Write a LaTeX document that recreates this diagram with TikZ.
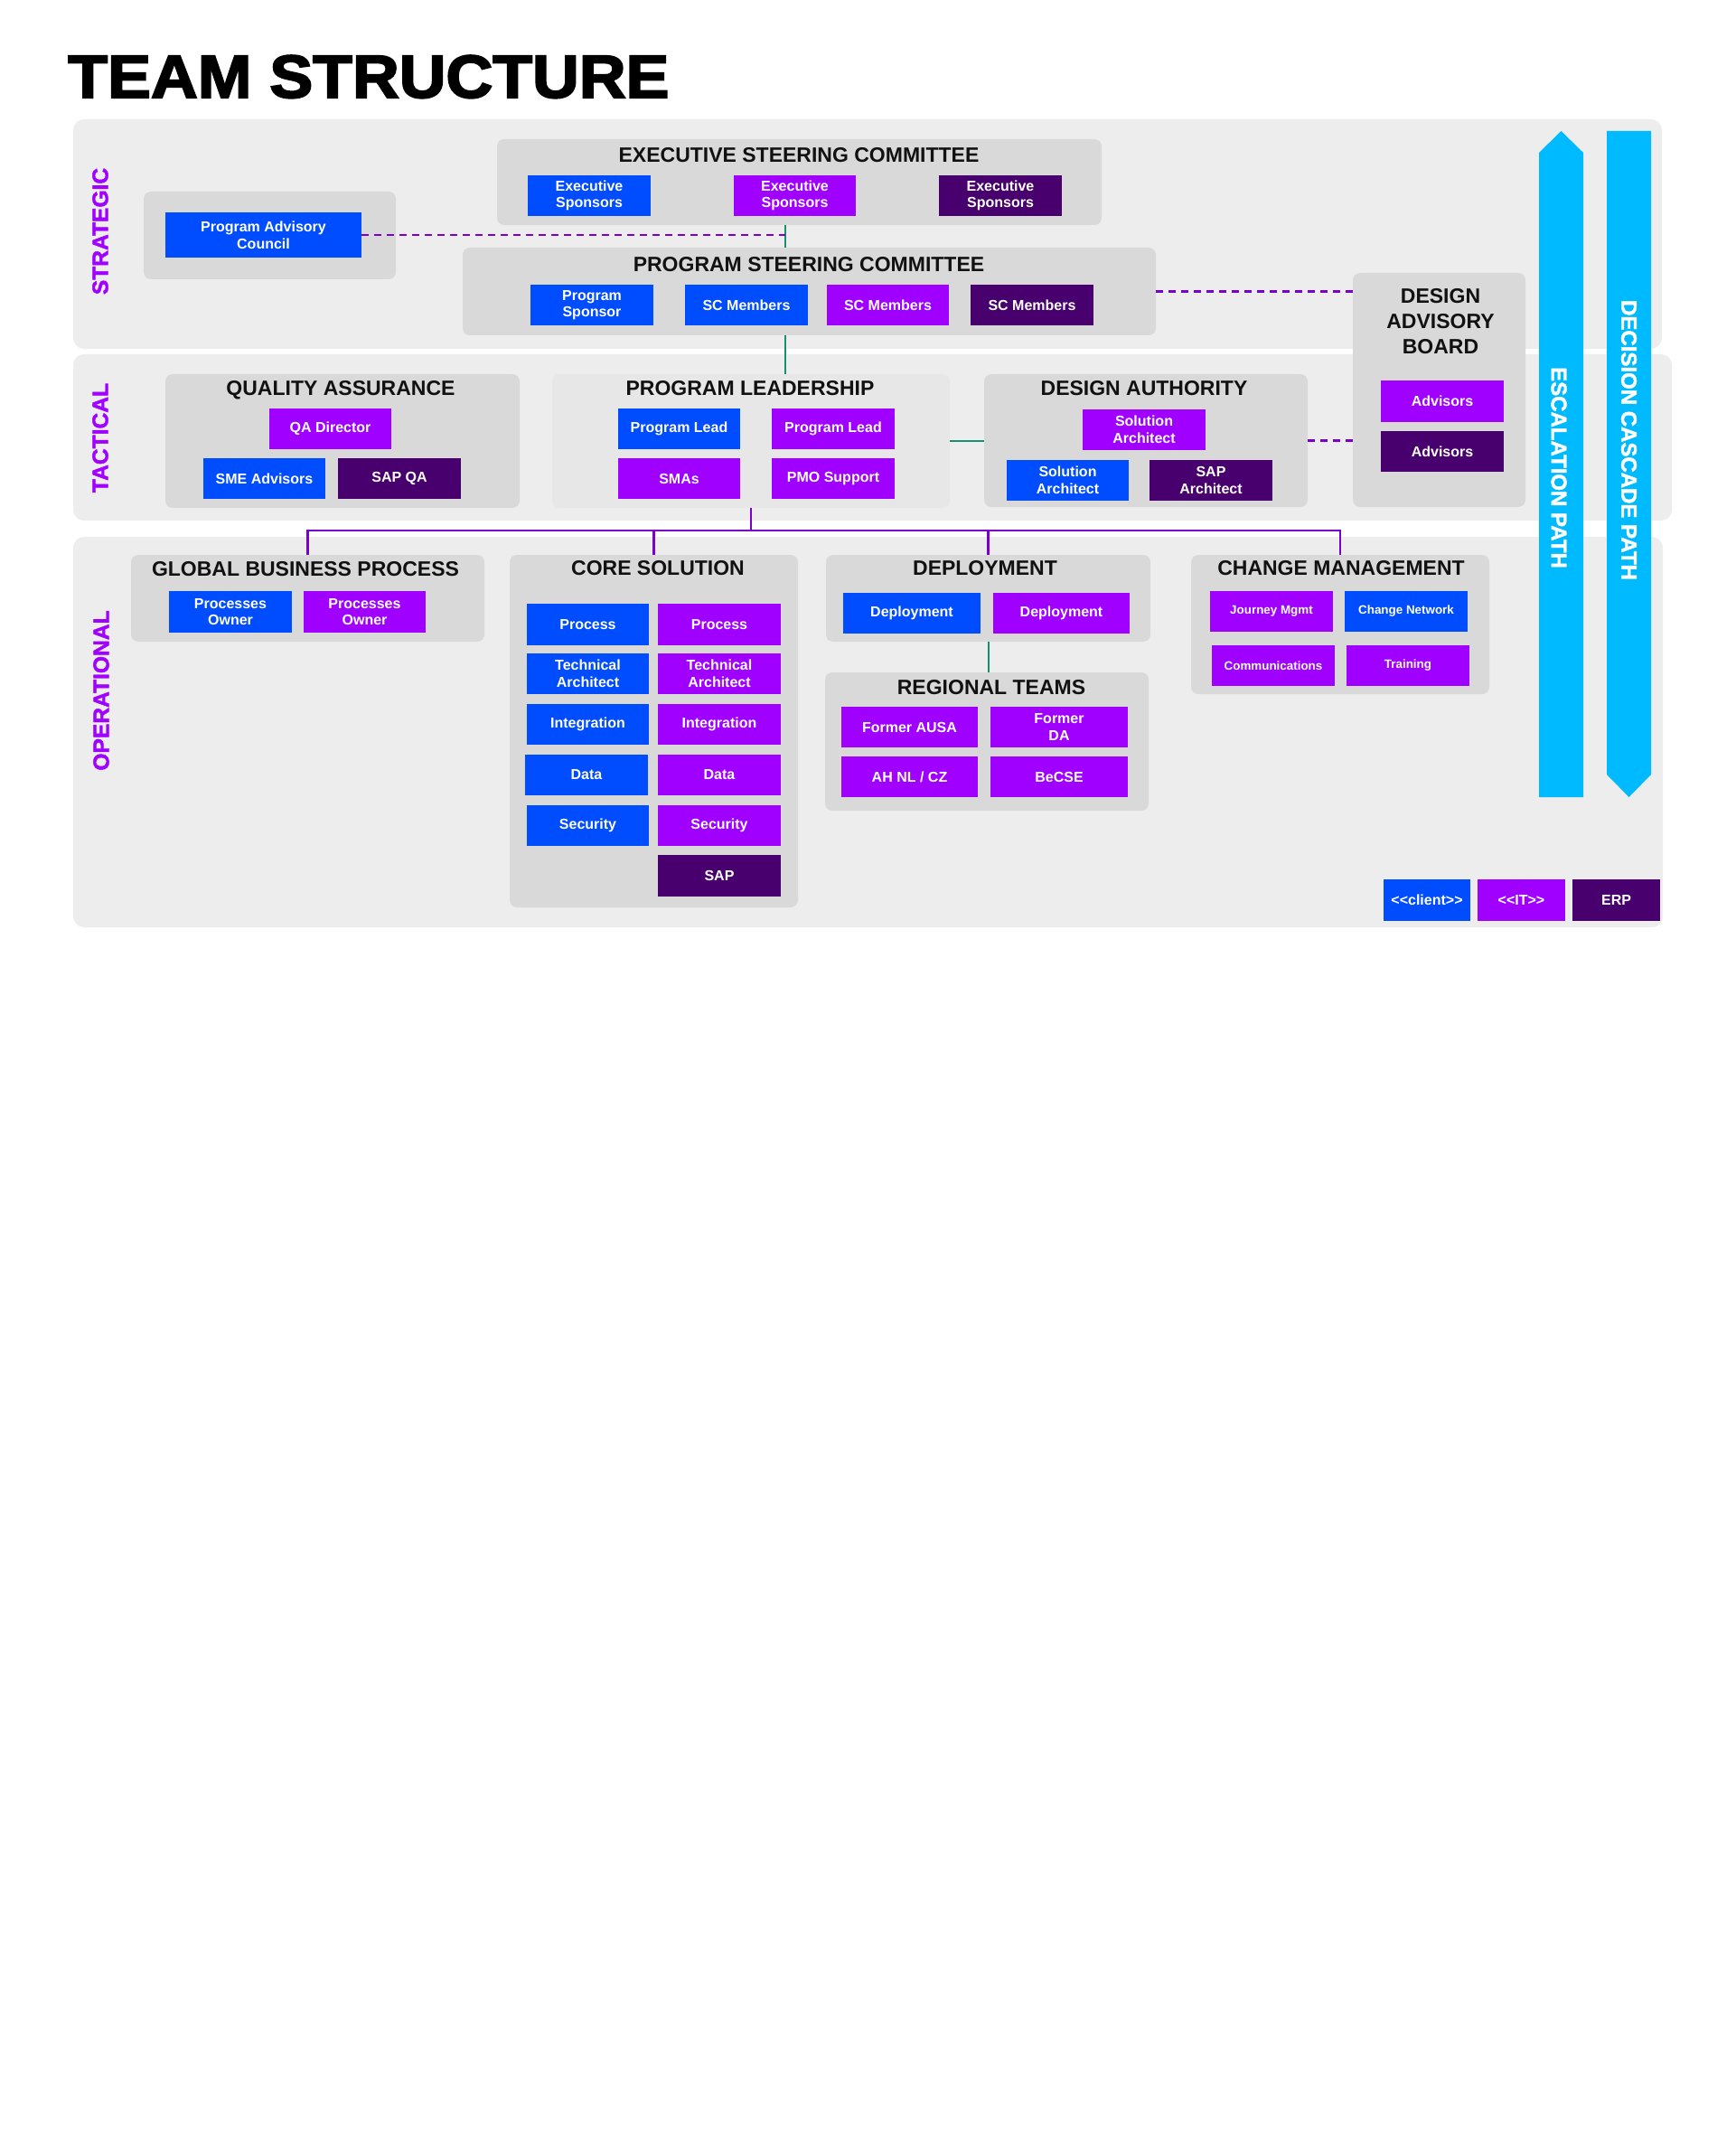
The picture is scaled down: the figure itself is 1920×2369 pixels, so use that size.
\documentclass[tikz,border=0pt]{standalone}
\usepackage{fontspec}
\setmainfont{Liberation Sans}
\newfontfamily\titlefont[FakeBold=3,FakeStretch=1.07]{Liberation Sans Bold}
\newfontfamily\tierfont[FakeBold=1.8]{Liberation Sans Bold}
\usetikzlibrary{calc}

\definecolor{cblue}{HTML}{004CFF}
\definecolor{cpurple}{HTML}{A000FF}
\definecolor{cdark}{HTML}{47006E}
\definecolor{ccyan}{HTML}{00BAFF}
\definecolor{cpanel}{HTML}{EDEDED}
\definecolor{cgroup}{HTML}{D9D9D9}
\definecolor{cgrouplight}{HTML}{E7E7E7}
\definecolor{cgreen}{HTML}{168F6F}
\definecolor{cline}{HTML}{7A00CC}
\definecolor{chead}{HTML}{111111}

% smaller lettering for the change management boxes
\newcommand\smalltext{\fontsize{6.7}{8}\selectfont}

% coloured role box given by its corners (pixels)
\newcommand\unitbox[7]{%
  \node[ubox,fill=#6,minimum width={(#4-#2)*0.5pt},minimum height={(#5-#3)*0.5pt}]
    (#1) at ({(#2+#4)/2},{(#3+#5)/2}) {#7};}
% grey group box given by its corners (pixels)
\newcommand\grpbox[6]{%
  \node[gbox,fill=#6,minimum width={(#4-#2)*0.5pt},minimum height={(#5-#3)*0.5pt}]
    (#1) at ({(#2+#4)/2},{(#3+#5)/2}) {};}
% tier panel
\newcommand\tierpanel[5]{%
  \node[pbox,minimum width={(#4-#2)*0.5pt},minimum height={(#5-#3)*0.5pt}]
    (#1) at ({(#2+#4)/2},{(#3+#5)/2}) {};}

\begin{document}
\begin{tikzpicture}[x=0.5pt,y=-0.5pt,
  ubox/.style={inner sep=0pt,outer sep=0pt,text=white,align=center,
    font=\bfseries\fontsize{8}{9.3}\selectfont},
  gbox/.style={inner sep=0pt,outer sep=0pt,rounded corners=4pt},
  pbox/.style={inner sep=0pt,outer sep=0pt,rounded corners=6pt,fill=cpanel},
  headbase/.style={inner sep=0pt,text=chead,align=center,
    font=\bfseries\fontsize{11.5}{14}\selectfont},
  head/.style={headbase,text height=8.25pt,text depth=0pt},
  tier/.style={inner sep=0pt,text=cpurple,rotate=90,
    font=\tierfont\fontsize{12.3}{14}\selectfont},
  pathtext/.style={inner sep=0pt,text=white,rotate=-90,
    font=\tierfont\fontsize{12}{14}\selectfont},
  gline/.style={draw=cgreen,line width=1pt},
  tline/.style={draw=cline,line width=1.4pt},
  dline/.style={draw=cline,line width=1.2pt,dash pattern=on 4pt off 3pt},
]
\useasboundingbox[fill=white] (0,0) rectangle (1920,2369);

% title
\node[anchor=base west,inner sep=0pt,font=\titlefont\fontsize{33.5}{36}\selectfont]
  (title) at (75,108) {TEAM STRUCTURE};

% tier panels
\tierpanel{strat}{81}{132}{1839}{386}
\tierpanel{tact}{81}{392}{1850}{576}
\tierpanel{oper}{81}{594}{1840}{1026}

\node[tier] (strat-l) at (111,256) {STRATEGIC};
\node[tier] (tact-l) at (111,484.5) {TACTICAL};
\node[tier] (oper-l) at (112,764) {OPERATIONAL};

% group boxes
\grpbox{pac}{159}{212}{438}{309}{cgroup}
\grpbox{esc}{550}{154}{1219}{249}{cgroup}
\grpbox{psc}{512}{274}{1279}{371}{cgroup}
\grpbox{dab}{1497}{302}{1688}{561}{cgroup}
\grpbox{qa}{183}{414}{575}{562}{cgroup}
\grpbox{pl}{611}{414}{1051}{562}{cgrouplight}
\grpbox{da}{1089}{414}{1447}{561}{cgroup}
\grpbox{gbp}{145}{614}{536}{710}{cgroup}
\grpbox{cs}{564}{614}{883}{1004}{cgroup}
\grpbox{dep}{914}{614}{1273}{710}{cgroup}
\grpbox{rt}{913}{744}{1271}{897}{cgroup}
\grpbox{cm}{1318}{614}{1648}{768}{cgroup}

% group headings
\node[head] (esc-t) at (884,171) {EXECUTIVE STEERING COMMITTEE};
\node[head] (psc-t) at (895,292) {PROGRAM STEERING COMMITTEE};
\node[headbase] (dab-t) at (1594,356) {DESIGN\\ADVISORY\\BOARD};
\node[head] (qa-t) at (377,429) {QUALITY ASSURANCE};
\node[head] (pl-t) at (830,429) {PROGRAM LEADERSHIP};
\node[head] (da-t) at (1266,429) {DESIGN AUTHORITY};
\node[head] (gbp-t) at (338,629) {GLOBAL BUSINESS PROCESS};
\node[head] (cs-t) at (728,628) {CORE SOLUTION};
\node[head] (dep-t) at (1090,628) {DEPLOYMENT};
\node[head] (rt-t) at (1097,760) {REGIONAL TEAMS};
\node[head] (cm-t) at (1484,628) {CHANGE MANAGEMENT};

% connectors
\coordinate (spine) at (869,0);
\coordinate (bus) at (0,587);
\draw[gline] (esc.south -| spine) -- (psc.north -| spine);
\draw[gline] (psc.south -| spine) -- (pl.north -| spine);
\draw[gline] (pl.east) -- (pl.east -| da.west);
\draw[gline] (dep.south) -- (dep.south |- rt.north);
\draw[tline] (pl.south) -- (pl.south |- bus);
\draw[tline] (gbp.north) -- (gbp.north |- bus) -- (cm.north |- bus) -- (cm.north);
\draw[tline] (cs.north) -- (cs.north |- bus);
\draw[tline] (dep.north) -- (dep.north |- bus);

% role boxes: strategic tier
\unitbox{pacin}{183}{235}{400}{285}{cblue}{Program Advisory\\Council}
\draw[dline] (pacin.east) -- (pacin.east -| spine);
\draw[dline] (psc.east) -- (psc.east -| dab.west);
\draw[dline] (da.east) -- (da.east -| dab.west);

\unitbox{es1}{584}{194}{720}{239}{cblue}{Executive\\Sponsors}
\unitbox{es2}{812}{194}{947}{239}{cpurple}{Executive\\Sponsors}
\unitbox{es3}{1039}{194}{1175}{239}{cdark}{Executive\\Sponsors}
\unitbox{ps1}{587}{315}{723}{360}{cblue}{Program\\Sponsor}
\unitbox{sc1}{758}{315}{894}{360}{cblue}{SC Members}
\unitbox{sc2}{915}{315}{1050}{360}{cpurple}{SC Members}
\unitbox{sc3}{1074}{315}{1210}{360}{cdark}{SC Members}
\unitbox{adv1}{1528}{421}{1664}{467}{cpurple}{Advisors}
\unitbox{adv2}{1528}{477}{1664}{522}{cdark}{Advisors}

% role boxes: tactical tier
\unitbox{qad}{298}{452}{433}{497}{cpurple}{QA Director}
\unitbox{sme}{225}{507}{360}{552}{cblue}{SME Advisors}
\unitbox{sapqa}{374}{507}{510}{552}{cdark}{SAP QA}
\unitbox{pl1}{684}{452}{819}{497}{cblue}{Program Lead}
\unitbox{pl2}{854}{452}{990}{497}{cpurple}{Program Lead}
\unitbox{smas}{684}{507}{819}{552}{cpurple}{SMAs}
\unitbox{pmo}{854}{507}{990}{552}{cpurple}{PMO Support}
\unitbox{sa1}{1198}{453}{1334}{498}{cpurple}{Solution\\Architect}
\unitbox{sa2}{1114}{509}{1249}{554}{cblue}{Solution\\Architect}
\unitbox{sapa}{1272}{509}{1408}{554}{cdark}{SAP\\Architect}

% role boxes: operational tier
\unitbox{po1}{187}{654}{323}{700}{cblue}{Processes\\Owner}
\unitbox{po2}{336}{654}{471}{700}{cpurple}{Processes\\Owner}

\unitbox{csl1}{583}{668}{718}{714}{cblue}{Process}
\unitbox{csr1}{728}{668}{864}{714}{cpurple}{Process}
\unitbox{csl2}{583}{723}{718}{768}{cblue}{Technical\\Architect}
\unitbox{csr2}{728}{723}{864}{768}{cpurple}{Technical\\Architect}
\unitbox{csl3}{583}{779}{718}{824}{cblue}{Integration}
\unitbox{csr3}{728}{779}{864}{824}{cpurple}{Integration}
\unitbox{csl4}{581}{835}{717}{880}{cblue}{Data}
\unitbox{csr4}{728}{835}{864}{880}{cpurple}{Data}
\unitbox{csl5}{583}{891}{718}{936}{cblue}{Security}
\unitbox{csr5}{728}{891}{864}{936}{cpurple}{Security}
\unitbox{csr6}{728}{946}{864}{992}{cdark}{SAP}

\unitbox{dep1}{933}{656}{1085}{701}{cblue}{Deployment}
\unitbox{dep2}{1099}{656}{1250}{701}{cpurple}{Deployment}
\unitbox{ausa}{931}{782}{1082}{827}{cpurple}{Former AUSA}
\unitbox{fda}{1096}{782}{1248}{827}{cpurple}{Former\\DA}
\unitbox{ahnl}{931}{837}{1082}{882}{cpurple}{AH NL / CZ}
\unitbox{becse}{1096}{837}{1248}{882}{cpurple}{BeCSE}

\unitbox{jm}{1339}{654}{1475}{699}{cpurple}{\smalltext Journey Mgmt}
\unitbox{cn}{1488}{654}{1624}{699}{cblue}{\smalltext Change Network}
\unitbox{com}{1341}{714}{1477}{759}{cpurple}{\smalltext Communications}
\unitbox{trn}{1490}{714}{1626}{759}{cpurple}{\smalltext Training}

% legend
\unitbox{lg1}{1531}{973}{1627}{1019}{cblue}{<\kern0pt<client>\kern0pt>}
\unitbox{lg2}{1635}{973}{1732}{1019}{cpurple}{<\kern0pt<IT>\kern0pt>}
\unitbox{lg3}{1740}{973}{1837}{1019}{cdark}{ERP}

% escalation and decision paths
\fill[ccyan] (1703,882) -- (1703,169) -- (1727.5,145) -- (1752,169) -- (1752,882) -- cycle;
\fill[ccyan] (1778,145) -- (1827,145) -- (1827,857) -- (1802.5,882) -- (1778,857) -- cycle;
\node[pathtext] (esc-path) at (1725,517.5) {ESCALATION PATH};
\node[pathtext] (dec-path) at (1802.5,487) {DECISION CASCADE PATH};

\end{tikzpicture}
\end{document}
